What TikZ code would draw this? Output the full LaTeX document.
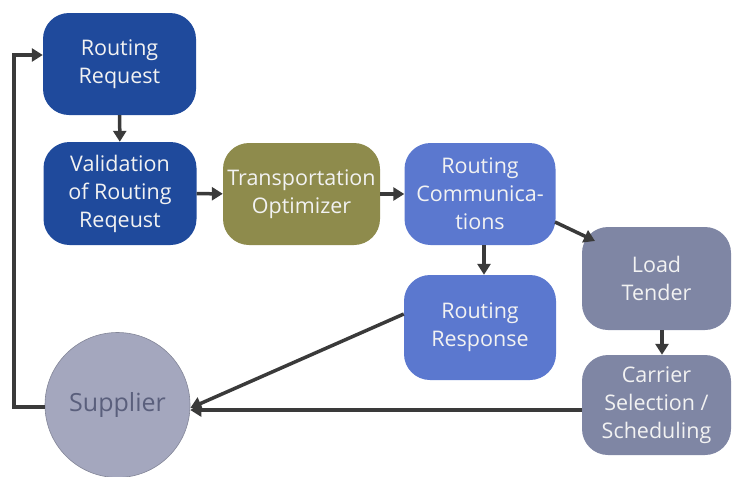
\documentclass[tikz,border=0pt]{standalone}
\usepackage{fontspec}
\setmainfont{Open Sans}
\usetikzlibrary{arrows.meta}
\definecolor{dblue}{HTML}{1F4A9C}
\definecolor{olive}{HTML}{8E8B4C}
\definecolor{mblue}{HTML}{5B78CF}
\definecolor{gblue}{HTML}{7F86A4}
\definecolor{sgray}{HTML}{A4A7BE}
\definecolor{stext}{HTML}{5A5F7C}
\definecolor{arr}{HTML}{3A3A3A}
\tikzset{
  x=1pt,y=-1pt,
  box/.style={rounded corners=26pt, minimum width=#1, align=center, inner sep=0pt,
    font=\fontsize{21.5}{28}\selectfont, text=white!90!gray},
  box/.default=153pt,
  conn/.style={draw=arr, line width=3.5pt, -{Triangle[length=11pt,width=13pt]}},
}
\begin{document}
\begin{tikzpicture}
\useasboundingbox (0,0) rectangle (732,477);
\node[box, fill=dblue, minimum height=102pt] (rr) at (119.5,64) {Routing\\Request};
\node[box, fill=dblue, minimum height=103pt] (val) at (120,193.5) {Validation\\of Routing\\Reqeust};
\node[box=157pt, fill=olive, minimum height=102pt] (to) at (301.5,194) {Transportation\\Optimizer};
\node[box=151pt, fill=mblue, minimum height=102pt] (rc) at (480,194) {Routing\\Communica-\\tions};
\node[box=152pt, fill=mblue, minimum height=105pt] (resp) at (480,327.5) {Routing\\Response};
\node[box=149pt, fill=gblue, minimum height=103pt] (lt) at (656.5,278.5) {Load\\Tender};
\node[box=149pt, fill=gblue, minimum height=100pt] (cs) at (656.5,405) {Carrier\\Selection /\\Scheduling};
\node[circle, fill=sgray, draw=sgray!80!black, line width=0.6pt, minimum size=145pt, inner sep=0pt,
  text=stext, font=\fontsize{25}{28}\selectfont] (sup) at (117.5,405) {Supplier};
\coordinate (c1) at (14,407);
\coordinate (c2) at (14,55);
\draw[conn] (rr) -- (val);
\draw[conn] (val) -- (to);
\draw[conn] (to) -- (rc);
\draw[conn] (rc.south -| 484,0) -- (resp.north -| 484,0);
\draw[conn] (555,222) -- (595,241);
\draw[conn] (lt.south -| 662,0) -- (cs.north -| 662,0);
\draw[conn] (cs.west |- 0,410) -- (sup.east |- 0,410);
\draw[conn] (resp.west |- 0,314) -- (sup.east |- 0,408);
\draw[conn] (sup.west |- 0,407) -- (c1) -- (c2) -- (rr.west |- 0,55);
\end{tikzpicture}
\end{document}
